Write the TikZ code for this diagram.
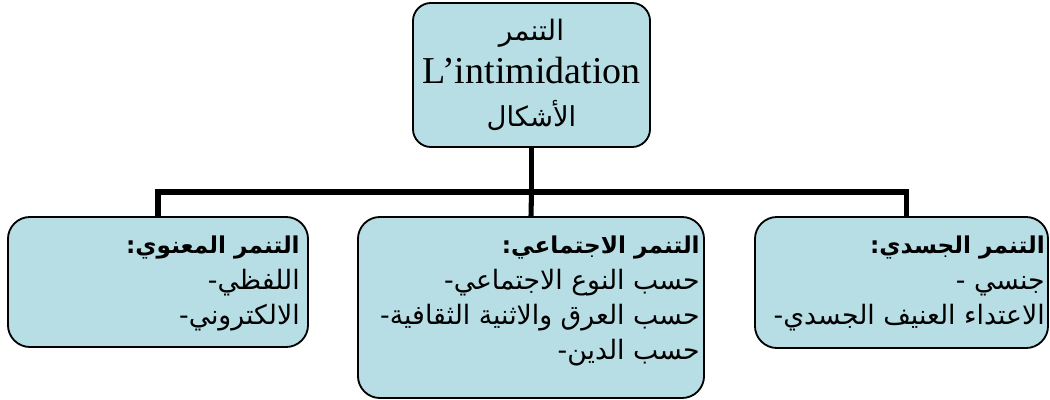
\documentclass[tikz,border=0pt]{standalone}
\usepackage{fontspec}
\setmainfont{Liberation Serif}
\newfontfamily\arabicfont[Script=Arabic]{DejaVu Sans}
\TeXXeTstate=1
\newcommand{\artxt}[1]{{\arabicfont\beginR #1\endR}}
\newcommand{\arhead}[1]{{\fontsize{16.5}{25}\selectfont\bfseries\artxt{#1}}}
\definecolor{boxfill}{RGB}{183,222,228}

\begin{document}
\begin{tikzpicture}[x=0.025cm, y=-0.025cm,
    box/.style={draw=black, line width=1.3pt, fill=boxfill, rounded corners=0.55cm},
    boxtext/.style={anchor=north east, inner sep=0pt, align=right, font=\fontsize{19}{25}\selectfont},
    conn/.style={draw=black, line width=3.6pt}]
    \useasboundingbox (0,0) rectangle (1050,400);
    \node[box, minimum width=5.925cm, minimum height=3.6cm, align=center, rounded corners=0.45cm, font=\fontsize{27}{30.5}\selectfont] (top) at (531.5,75) {{\fontsize{20}{30.5}\selectfont\artxt{التنمر}}\\L’intimidation\\{\fontsize{19.5}{30.5}\selectfont\artxt{الأشكال}}};
    \node[box, minimum width=7.5cm, minimum height=3.25cm] (verbal) at (158,282) {};
    \node[box, minimum width=8.65cm, minimum height=4.525cm] (social) at (531,307.5) {};
    \node[box, minimum width=7.325cm, minimum height=3.275cm] (physical) at (901.5,282.5) {};
    \node[boxtext] (verbaltext) at (300,236) {\arhead{التنمر المعنوي:}\\\artxt{اللفظي-}\\\artxt{الالكتروني-}};
    \node[boxtext] (socialtext) at (700,236) {\arhead{التنمر الاجتماعي:}\\\artxt{حسب النوع الاجتماعي-}\\\artxt{حسب العرق والاثنية الثقافية-}\\\artxt{حسب الدين-}};
    \node[boxtext] (physicaltext) at (1045,236) {\arhead{التنمر الجسدي:}\\\artxt{جنسي -}\\\artxt{الاعتداء العنيف الجسدي-}};
    \coordinate (bar) at (531.5,192);
    \draw[conn] (top.south) -- (bar);
    \draw[conn] (bar) -| (verbal.north);
    \draw[conn] (bar) -| ([xshift=0.12cm]physical.north);
    \draw[conn] (bar) -- (social.north);
\end{tikzpicture}
\end{document}
